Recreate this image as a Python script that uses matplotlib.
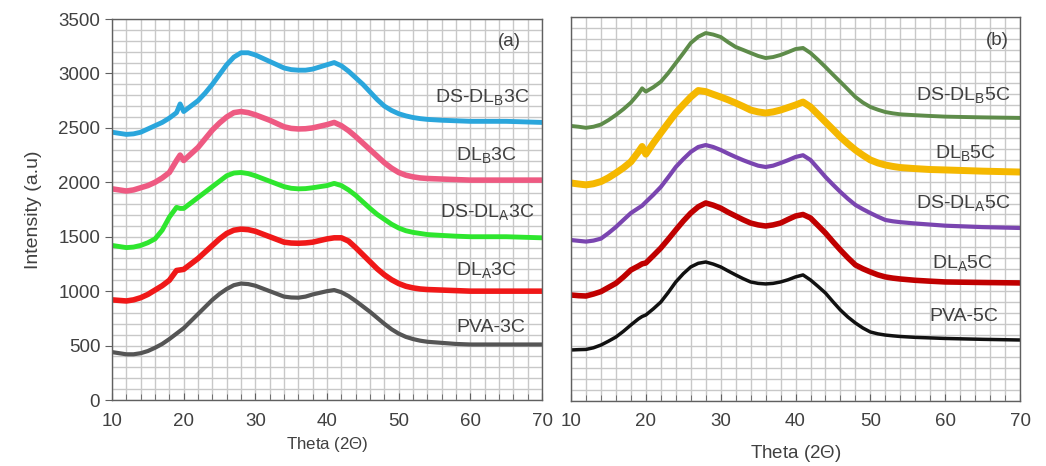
import numpy as np
import matplotlib
matplotlib.use('Agg')
from matplotlib import pyplot as plt
from matplotlib.ticker import MultipleLocator

plt.rcParams['font.family'] = ['Liberation Sans', 'DejaVu Sans']
plt.rcParams['mathtext.fontset'] = 'custom'
plt.rcParams['mathtext.rm'] = 'Liberation Sans'
plt.rcParams['mathtext.it'] = 'Liberation Sans:italic'

# data (theta, intensity)
theta = [10, 11, 12, 13, 14, 15, 16, 17, 18, 19, 19.5, 20, 21, 22, 23, 24, 25, 26, 27, 28,
         29, 30, 31, 32, 33, 34, 35, 36, 37, 38, 39, 40, 41, 42, 43, 44, 45, 46, 47, 48,
         49, 50, 51, 52, 53, 54, 56, 58, 60, 65, 70]

# panel (a)
ds_dlb3c = [2460, 2450, 2440, 2445, 2460, 2490, 2520, 2550, 2590, 2640, 2720, 2650, 2700, 2750,
            2820, 2900, 2990, 3080, 3150, 3190, 3190, 3170, 3140, 3110, 3080, 3050, 3035, 3030,
            3030, 3040, 3060, 3080, 3100, 3070, 3020, 2960, 2900, 2830, 2760, 2700, 2660, 2630,
            2610, 2595, 2585, 2578, 2570, 2565, 2560, 2560, 2550]
dlb3c = [1940, 1930, 1920, 1930, 1950, 1970, 2000, 2040, 2090, 2200, 2250, 2200, 2260, 2320,
         2400, 2480, 2545, 2600, 2640, 2650, 2640, 2620, 2595, 2570, 2540, 2510, 2495, 2490,
         2492, 2500, 2515, 2530, 2550, 2520, 2475, 2420, 2360, 2300, 2240, 2180, 2130, 2090,
         2065, 2050, 2040, 2035, 2030, 2025, 2020, 2020, 2020]
ds_dla3c = [1420, 1410, 1400, 1405, 1420, 1445, 1480, 1560, 1680, 1770, 1760, 1760, 1810, 1860,
            1910, 1960, 2010, 2060, 2085, 2090, 2080, 2060, 2035, 2010, 1985, 1960, 1945, 1940,
            1942, 1950, 1960, 1970, 1990, 1970, 1930, 1880, 1820, 1760, 1705, 1660, 1615, 1580,
            1555, 1540, 1530, 1520, 1512, 1505, 1500, 1500, 1490]
dla3c = [920, 915, 910, 920, 940, 970, 1010, 1050, 1100, 1190, 1195, 1200, 1250, 1300,
         1360, 1420, 1480, 1530, 1560, 1570, 1565, 1550, 1525, 1500, 1475, 1450, 1442, 1440,
         1443, 1450, 1465, 1480, 1490, 1490, 1460, 1400, 1335, 1270, 1205, 1150, 1105, 1070,
         1045, 1030, 1020, 1015, 1010, 1005, 1000, 1000, 1000]
pva3c = [440, 430, 420, 420, 430, 450, 480, 515, 560, 610, 635, 660, 725, 790,
         855, 920, 975, 1020, 1055, 1070, 1065, 1050, 1025, 1000, 975, 950, 942, 940,
         950, 970, 985, 1000, 1010, 990, 955, 910, 860, 810, 755, 700, 650, 610,
         580, 560, 545, 535, 525, 515, 510, 510, 510]

# panel (b)
ds_dlb5c = [2507, 2500, 2490, 2500, 2520, 2560, 2607, 2660, 2720, 2800, 2850, 2820, 2860, 2910,
            2990, 3080, 3170, 3263, 3320, 3354, 3340, 3318, 3270, 3227, 3200, 3172, 3145, 3126,
            3135, 3154, 3180, 3208, 3218, 3172, 3110, 3044, 2975, 2908, 2840, 2771, 2720, 2680,
            2655, 2634, 2622, 2613, 2605, 2598, 2592, 2585, 2580]
dlb5c = [1987, 1978, 1970, 1980, 2000, 2035, 2078, 2125, 2180, 2270, 2320, 2250, 2350, 2443,
         2535, 2625, 2700, 2771, 2830, 2820, 2795, 2771, 2745, 2716, 2685, 2652, 2635, 2625,
         2635, 2652, 2675, 2698, 2725, 2680, 2612, 2543, 2475, 2406, 2345, 2288, 2240, 2197,
         2170, 2151, 2138, 2128, 2118, 2110, 2106, 2095, 2087]
ds_dla5c = [1467, 1460, 1453, 1462, 1480, 1530, 1586, 1650, 1713, 1758, 1780, 1814, 1880, 1951,
            2040, 2133, 2205, 2270, 2315, 2333, 2315, 2288, 2255, 2224, 2195, 2169, 2145, 2133,
            2145, 2169, 2195, 2224, 2240, 2197, 2120, 2042, 1972, 1905, 1843, 1787, 1748, 1713,
            1680, 1650, 1638, 1630, 1618, 1608, 1598, 1585, 1577]
dla5c = [966, 960, 957, 975, 997, 1035, 1073, 1130, 1194, 1230, 1250, 1258, 1325, 1394,
         1475, 1559, 1640, 1713, 1770, 1805, 1785, 1758, 1720, 1686, 1652, 1622, 1605, 1595,
         1605, 1622, 1655, 1686, 1700, 1668, 1600, 1531, 1452, 1376, 1305, 1240, 1205, 1176,
         1150, 1131, 1120, 1112, 1100, 1092, 1085, 1080, 1076]
pva5c = [465, 468, 470, 485, 510, 545, 583, 635, 693, 748, 770, 784, 840, 902,
         990, 1085, 1160, 1222, 1255, 1267, 1248, 1222, 1185, 1149, 1115, 1085, 1072, 1067,
         1072, 1085, 1105, 1131, 1149, 1103, 1045, 984, 905, 829, 765, 711, 665, 629,
         612, 601, 594, 588, 580, 575, 570, 562, 556]

series_a = [pva3c, dla3c, ds_dla3c, dlb3c, ds_dlb3c]
colors_a = ['#555555', '#f01818', '#2ee62e', '#ee5a82', '#2aa6dc']
labels_a = ['PVA-3C', r'DL$_\mathregular{A}$3C', r'DS-DL$_\mathregular{A}$3C',
            r'DL$_\mathregular{B}$3C', r'DS-DL$_\mathregular{B}$3C']
label_pos_a = [(67.6, 670), (66.5, 1194), (69.0, 1727), (66.5, 2250), (68.3, 2783)]
widths_a = [3, 4, 3.5, 4, 3.5]

series_b = [pva5c, dla5c, ds_dla5c, dlb5c, ds_dlb5c]
colors_b = ['#111111', '#c00000', '#7a45b0', '#f5b800', '#5e8c4a']
labels_b = ['PVA-5C', r'DL$_\mathregular{A}$5C', r'DS-DL$_\mathregular{A}$5C',
            r'DL$_\mathregular{B}$5C', r'DS-DL$_\mathregular{B}$5C']
label_pos_b = [(67.1, 766), (66.4, 1258), (68.7, 1805), (66.7, 2260), (68.7, 2789)]
widths_b = [2.5, 4, 3, 5, 2.8]

txt = '#404040'
fig = plt.figure(figsize=(10.46, 4.66), dpi=100)
ax1 = fig.add_axes([0.1071, 0.1416, 0.4111, 0.8176])
ax2 = fig.add_axes([0.5459, 0.1395, 0.4293, 0.8240])


def style(ax):
    ax.set_xlim(10, 70)
    ax.set_ylim(0, 3500)
    ax.xaxis.set_major_locator(MultipleLocator(10))
    ax.xaxis.set_minor_locator(MultipleLocator(2))
    ax.yaxis.set_major_locator(MultipleLocator(500))
    ax.yaxis.set_minor_locator(MultipleLocator(100))
    ax.grid(which='both', color='#c8c8c8', linewidth=1)
    ax.set_axisbelow(True)
    for s in ax.spines.values():
        s.set_color('#606060')
        s.set_linewidth(1)
    ax.tick_params(axis='x', which='major', direction='in', length=5, color='#606060',
                   labelsize=13.5, labelcolor=txt, pad=9)
    ax.tick_params(axis='x', which='minor', direction='in', length=4, color='#606060')
    ax.tick_params(axis='y', which='minor', length=0)
    ax.tick_params(top=False, right=False)


style(ax1)
style(ax2)
ax1.tick_params(axis='y', which='major', direction='out', length=5, color='#606060',
                labelsize=13.5, labelcolor=txt)
ax2.tick_params(axis='y', which='major', length=0, labelleft=False)

for y, c, lab, pos, w in zip(series_a, colors_a, labels_a, label_pos_a, widths_a):
    ax1.plot(theta, y, color=c, linewidth=w, solid_joinstyle='round')
    ax1.text(pos[0], pos[1], lab, ha='right', va='center', fontsize=14, color=txt)
for y, c, lab, pos, w in zip(series_b, colors_b, labels_b, label_pos_b, widths_b):
    ax2.plot(theta, y, color=c, linewidth=w, solid_joinstyle='round')
    ax2.text(pos[0], pos[1], lab, ha='right', va='center', fontsize=14, color=txt)

ax1.text(65.5, 3290, '(a)', ha='center', va='center', fontsize=13.5, color=txt)
ax2.text(66.9, 3290, '(b)', ha='center', va='center', fontsize=13.5, color=txt)

ax1.set_xlabel(r'Theta (2$\it{Θ}$)', fontsize=12.2, color=txt, labelpad=4)
ax2.set_xlabel(r'Theta (2$\it{Θ}$)', fontsize=13.5, color=txt, labelpad=9)
ax1.set_ylabel('Intensity (a.u)', fontsize=14, color=txt, labelpad=12)

plt.savefig('out.png', dpi=100)
